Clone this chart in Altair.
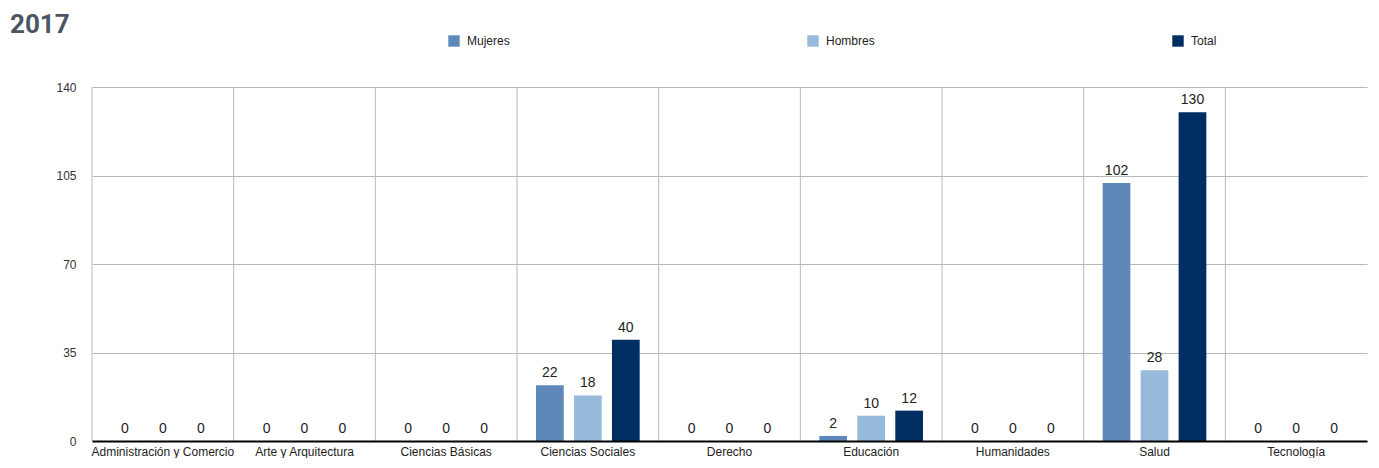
import altair as alt
import pandas as pd

categories = ["Administración y Comercio", "Arte y Arquitectura", "Ciencias Básicas",
              "Ciencias Sociales", "Derecho", "Educación", "Humanidades", "Salud", "Tecnología"]
series = ["Mujeres", "Hombres", "Total"]
mujeres = [0, 0, 0, 22, 0, 2, 0, 102, 0]
hombres = [0, 0, 0, 18, 0, 10, 0, 28, 0]
total = [0, 0, 0, 40, 0, 12, 0, 130, 0]
colors = ["#5e88ba", "#97badc", "#002d62"]
y_ticks = [0, 35, 70, 105, 140]

rows = []
for i, c in enumerate(categories):
    for s, vals in zip(series, [mujeres, hombres, total]):
        rows.append({"area": c, "serie": s, "valor": vals[i]})
df = pd.DataFrame(rows)
cat_df = pd.DataFrame({"area": categories})

W, H = 1275, 354
FONT = "Liberation Sans"

x_axis = alt.Axis(title=None, labelAngle=0, ticks=False, domain=True,
                  domainColor="#000000", domainWidth=2, grid=False,
                  bandPosition=0.5,
                  labelFontSize=12, labelColor="#222222", labelFont=FONT,
                  labelPadding=5, zindex=1)
x_scale = alt.Scale(paddingInner=0, paddingOuter=0)
x_enc = alt.X("area:N", sort=categories, scale=x_scale, axis=x_axis)
y_enc = alt.Y("valor:Q", scale=alt.Scale(domain=[0, 140], nice=False, zero=True),
              axis=alt.Axis(title=None, values=y_ticks, ticks=False, domain=False,
                            grid=True, gridColor="#b8b8b8", gridWidth=1,
                            labelFontSize=12, labelColor="#333333", labelFont=FONT,
                            labelPadding=16))
xoff = alt.XOffset("serie:N", sort=series,
                   scale=alt.Scale(domain=series, paddingInner=0.27, paddingOuter=0.5))

bars = alt.Chart(df).mark_bar().encode(
    x=x_enc, xOffset=xoff, y=y_enc,
    color=alt.Color("serie:N", sort=series,
                    scale=alt.Scale(domain=series, range=colors),
                    legend=alt.Legend(title=None, orient="none", legendX=356, legendY=-52,
                                      direction="horizontal", columns=3, columnPadding=297,
                                      symbolType="square", symbolSize=130, symbolStrokeWidth=0,
                                      labelFontSize=12, labelColor="#222222", labelFont=FONT,
                                      labelOffset=7, padding=0))
)

labels = alt.Chart(df).mark_text(baseline="bottom", dy=-5, fontSize=14, font=FONT,
                                 color="#222222").encode(
    x=x_enc, xOffset=xoff, y=y_enc, text=alt.Text("valor:Q")
)

vlines = alt.Chart(cat_df).mark_rule(color="#b8b8b8", strokeWidth=1).encode(
    x=alt.X("area:N", sort=categories, bandPosition=0, scale=x_scale, axis=x_axis),
    y=alt.value(0), y2=alt.value(H)
)

chart = alt.layer(bars, labels, vlines).properties(
    width=W, height=H,
    title=alt.Title("2017", anchor="start", frame="group", dx=-82, offset=-3,
                    fontSize=26, font="Roboto", fontWeight="bold", color="#4a5663"),
    autosize=alt.AutoSizeParams(type="none"),
    padding={"left": 84, "top": 79, "right": 4, "bottom": 17},
).configure_view(stroke=None)

chart.save("out.html", embed_options={"renderer": "svg", "actions": False})
